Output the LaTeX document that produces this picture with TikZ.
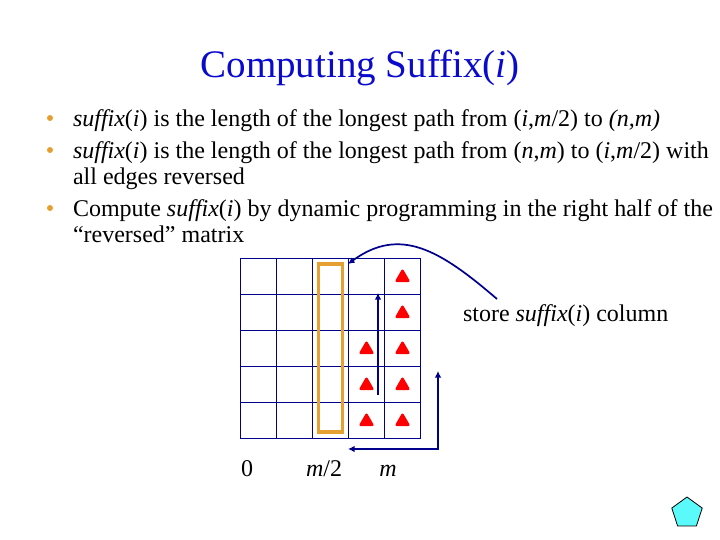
\documentclass[tikz,border=0pt]{standalone}
\usepackage{fontspec}
\usepackage{xcolor}
\usepackage{tikz}
\usetikzlibrary{shapes.geometric,arrows.meta}
\setmainfont{Liberation Serif}
\definecolor{navyline}{RGB}{0,0,140}
\definecolor{titleblue}{RGB}{10,10,205}
\definecolor{bulletorange}{RGB}{230,160,50}
\definecolor{pentacyan}{RGB}{90,250,250}
\newcommand{\sfx}{\textit{suffix}(\textit{i})}
\tikzset{
  bodytext/.style={anchor=base west, font=\fontsize{24}{28}\selectfont},
  bulletdot/.style={circle, fill=bulletorange, minimum size=6pt},
  cell/.style={rectangle, draw=navyline, line width=1pt, minimum size=36pt},
  redmark/.style={regular polygon, regular polygon sides=3, fill=red, rounded corners=2.5pt, minimum size=18.5pt, yshift=-1.5pt},
  flow/.style={draw=navyline, line width=1.7pt, -{Latex[length=6.5pt,width=6.5pt]}}
}
\begin{document}
\begin{tikzpicture}[x=1pt, y=-1pt, every node/.style={inner sep=0pt, outer sep=0pt}]
\useasboundingbox (0,0) rectangle (720,540);
% Title
\node[anchor=base, text=titleblue, font=\fontsize{39}{42}\selectfont] (title) at (360,78) {Computing Suffix(\textit{i})};
% Bullets
\node[bulletdot] (b1) at (50,118) {};
\node[bulletdot] (b2) at (50,150) {};
\node[bulletdot] (b3) at (50,208) {};
\node[bodytext] (l1) at (73,126.5) {\sfx{} is the length of the longest path from (\textit{i},\textit{m}/2) to \textit{(n,m)}};
\node[bodytext] (l2) at (73,158.5) {\sfx{} is the length of the longest path from (\textit{n},\textit{m}) to (\textit{i},\textit{m}/2) with};
\node[bodytext] (l3) at (73,184.5) {all edges reversed};
\node[bodytext] (l4) at (73,216.5) {Compute \sfx{} by dynamic programming in the right half of the};
\node[bodytext] (l5) at (73,242.5) {“reversed” matrix};
% Matrix
\foreach \r in {1,...,5}
  \foreach \c in {1,...,5}
    \node[cell] (c\r\c) at (222.5+36*\c,240+36*\r) {};
% Middle column
\node[rectangle, draw=bulletorange, line width=3.2pt, minimum width=24pt, minimum height=168pt] (mid) at (c33) {};
% Marks
\node[redmark] (m15) at (c15) {};
\node[redmark] (m25) at (c25) {};
\node[redmark] (m34) at (c34) {};
\node[redmark] (m35) at (c35) {};
\node[redmark] (m44) at (c44) {};
\node[redmark] (m45) at (c45) {};
\node[redmark] (m54) at (c54) {};
\node[redmark] (m55) at (c55) {};
% Labels
\node[bodytext, anchor=base] (zero) at (247,476) {0};
\node[bodytext, anchor=base] (half) at (324,476) {\textit{m}/2};
\node[bodytext, anchor=base] (right) at (388,476) {\textit{m}};
\node[bodytext] (store) at (463,321) {store \sfx{} column};
% Arrows
\coordinate (upfrom) at (378,395);
\coordinate (upto) at (378,293);
\coordinate (sweepa) at (438,371);
\coordinate (sweepb) at (438,449);
\coordinate (sweepc) at (348,449);
\coordinate (curvefrom) at (497,299);
\coordinate (curveto) at (348,264);
\draw[flow] (upfrom) -- (upto);
\draw[flow, {Latex[length=6.5pt,width=6.5pt]}-{Latex[length=6.5pt,width=6.5pt]}] (sweepa) -- (sweepb) -- (sweepc);
\draw[flow] (curvefrom) .. controls (440,250) and (400,226) .. (curveto);
% Corner button
\node[regular polygon, regular polygon sides=5, draw=black, fill=pentacyan, line width=0.8pt, minimum size=32pt] (next) at (687,513) {};
\end{tikzpicture}
\end{document}
